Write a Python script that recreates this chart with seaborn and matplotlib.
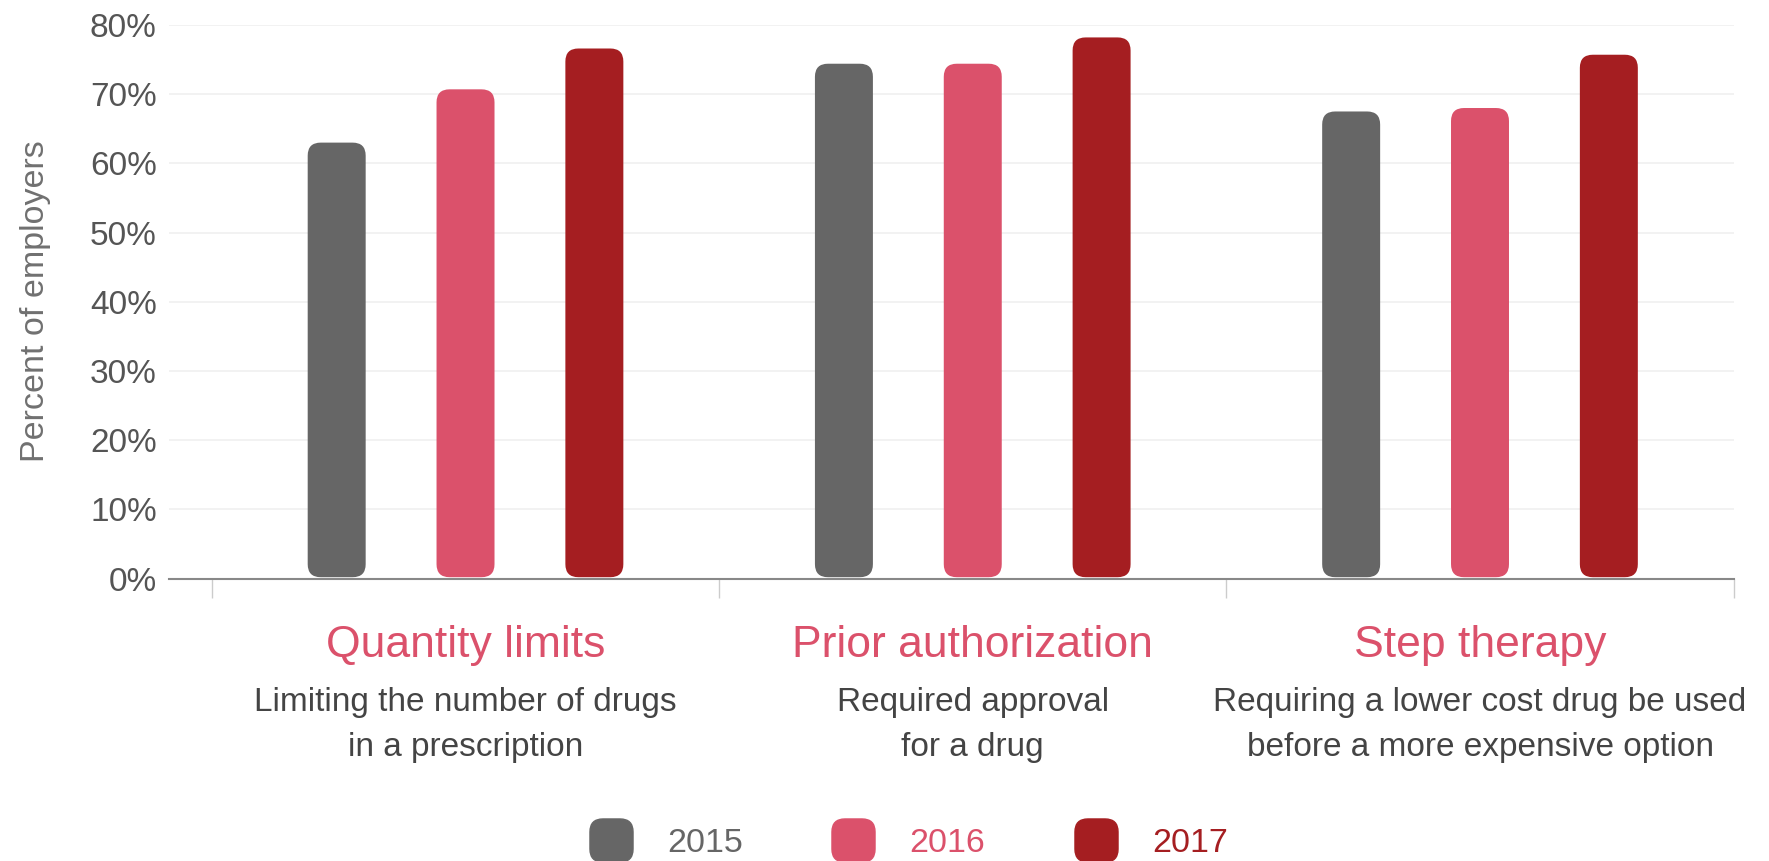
import numpy as np
import pandas as pd
import matplotlib
matplotlib.use("Agg")
import matplotlib.pyplot as plt
import seaborn as sns
from matplotlib.patches import FancyBboxPatch
from matplotlib.lines import Line2D
from matplotlib.ticker import FuncFormatter, FixedLocator

# ---- data ----
categories = ["Quantity limits", "Prior authorization", "Step therapy"]
subtitles = ["Limiting the number of drugs\nin a prescription",
             "Required approval\nfor a drug",
             "Requiring a lower cost drug be used\nbefore a more expensive option"]
years = ["2015", "2016", "2017"]
values_2015 = [63, 74.4, 67.5]
values_2016 = [70.7, 74.4, 68]
values_2017 = [76.6, 78.2, 75.7]
y_ticks = [0, 10, 20, 30, 40, 50, 60, 70, 80]
colors = ["#666666", "#db516b", "#a51e21"]

rows = []
for yr, vals in zip(years, [values_2015, values_2016, values_2017]):
    for c, v in zip(categories, vals):
        rows.append({"category": c, "year": yr, "value": v})
df = pd.DataFrame(rows)

sns.set_theme(style="white")
plt.rcParams["font.family"] = ["Liberation Sans", "DejaVu Sans"]

fig = plt.figure(figsize=(17.69, 8.61), dpi=100)
ax = fig.add_axes([0.0957, 0.328, 0.8843, 0.643])

sns.barplot(data=df, x="category", y="value", hue="year", order=categories,
            hue_order=years, palette=colors, width=0.762, gap=0.55,
            ax=ax, legend=False, saturation=1)

ax.set_xlim(-0.584, 2.5)
ax.set_ylim(0, 80)

# rounded bars
pos = ax.get_position()
W, H = fig.get_size_inches() * fig.dpi
px_per_x = pos.width * W / (2.5 + 0.584)
px_per_y = pos.height * H / 80
aspect = px_per_x / px_per_y
r = 13 / px_per_x
for p in list(ax.patches):
    x, y = p.get_x(), p.get_y()
    w, h = p.get_width(), p.get_height()
    fb = FancyBboxPatch((x, y + 0.2), w, h - 0.2,
                        boxstyle=f"round,pad=0,rounding_size={r}",
                        mutation_aspect=aspect, facecolor=p.get_facecolor(),
                        edgecolor="none", zorder=3)
    ax.add_patch(fb)
    p.set_visible(False)

# grid and axes
ax.set_yticks(y_ticks)
ax.yaxis.set_major_formatter(FuncFormatter(lambda v, _: f"{int(v)}%"))
ax.grid(axis="y", color="#f0f0f0", linewidth=1.2, zorder=0)
ax.set_axisbelow(True)
ax.tick_params(axis="y", length=0, pad=9, labelsize=24, labelcolor="#555555")
ax.set_xticks([0, 1, 2])
ax.set_xticklabels(["", "", ""])
ax.xaxis.set_minor_locator(FixedLocator([-0.5, 0.5, 1.5, 2.5]))
ax.tick_params(axis="x", which="major", length=0)
ax.tick_params(axis="x", which="minor", length=14, width=1, color="#cccccc",
               bottom=True)
for s in ["top", "right", "left"]:
    ax.spines[s].set_visible(False)
ax.spines["bottom"].set_color("#888888")
ax.spines["bottom"].set_linewidth(1.5)
ax.set_xlabel("")
ax.set_ylabel("")

fig.text(0.02, 0.65, "Percent of employers", rotation=90, ha="center",
         va="center", fontsize=24.5, color="#707070")

# category labels
for i, (c, s) in enumerate(zip(categories, subtitles)):
    xf = pos.x0 + pos.width * (i + 0.584) / 3.084
    fig.text(xf, 0.25, c, ha="center", va="center", fontsize=32,
             color="#db516b")
    fig.text(xf, 0.158, s, ha="center", va="center", fontsize=24,
             color="#444444", linespacing=1.55)

# legend with rounded squares
rb = FancyBboxPatch((-0.5, -0.5), 1, 1, boxstyle="round,pad=0,rounding_size=0.3")
rpath = rb.get_path()
handles = [Line2D([], [], linestyle="none", marker=rpath, markersize=31,
                  markerfacecolor=col, markeredgecolor=col) for col in colors]
leg = fig.legend(handles, years, loc="center", bbox_to_anchor=(0.51, 0.02),
                 ncol=3, frameon=False, fontsize=24.5, columnspacing=2.25,
                 handletextpad=0.65)
for t, col in zip(leg.get_texts(), colors):
    t.set_color(col)

fig.savefig("out.png", dpi=100)
